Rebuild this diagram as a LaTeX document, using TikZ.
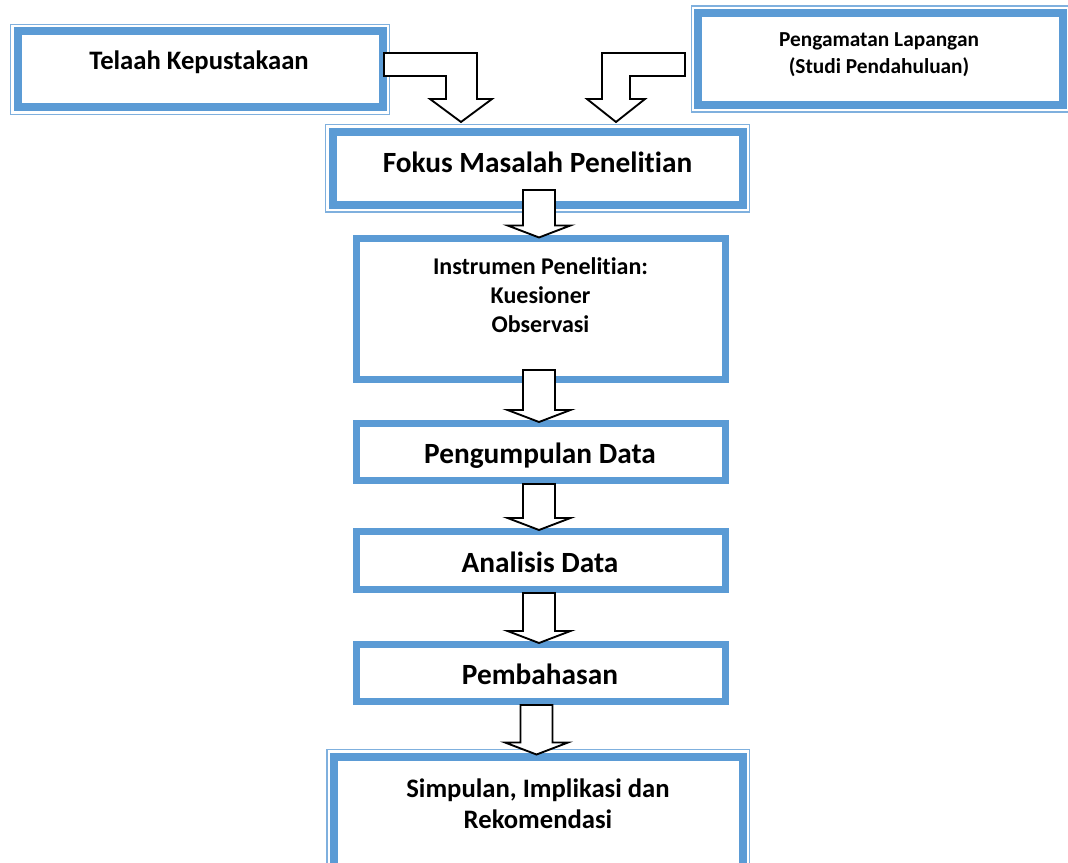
\documentclass[tikz,border=0pt]{standalone}
\usepackage{fontspec}
\setmainfont{Carlito}[Ligatures=NoCommon]
\usetikzlibrary{calc}
\definecolor{bandblue}{HTML}{5B9BD5}
\definecolor{thinblue}{HTML}{7FB0DE}
\tikzset{
  thickbox/.style={draw=bandblue, line width=6pt, fill=white, inner sep=0pt, rectangle},
  singlebox/.style={draw=bandblue, line width=5.25pt, fill=white, inner sep=0pt, rectangle, minimum width=276.4pt},
  thinline/.style={draw=thinblue, line width=0.9pt},
  blkarrow/.style={draw=black, fill=white, line width=1.4pt, line join=miter},
  lbl/.style={inner sep=0pt, anchor=base, align=center, font=\bfseries},
}
\newcommand{\blockdown}[3]{%
  \draw[blkarrow] let \p1=(#1.south), \p2=(#2.north) in
   ({\x2-13.3pt},{\y1+#3}) -- ({\x2+10.7pt},{\y1+#3}) -- ({\x2+10.7pt},{\y2+7.5pt})
   -- ({\x2+22.3pt},{\y2+7.5pt}) -- ({\x2-1.3pt},{\y2-1.5pt}) -- ({\x2-24.9pt},{\y2+7.5pt})
   -- ({\x2-13.3pt},{\y2+7.5pt}) -- cycle;}
\newcommand{\outline}[1]{%
  \draw[thinline] ([shift={(-2.25pt,-2.25pt)}]#1.south west) rectangle ([shift={(2.25pt,2.25pt)}]#1.north east);}
\begin{document}
\begin{tikzpicture}[x=0.75pt,y=-0.75pt]
\useasboundingbox (0,0) rectangle (1068,863);
% boxes
\node[thickbox, minimum width=273.75pt, minimum height=57pt] (tel) at (200,69.5) {};
\outline{tel}
\node[thickbox, minimum width=273.4pt, minimum height=69pt] (pen) at (880.75,59) {};
\outline{pen}
\node[thickbox, minimum width=307.5pt, minimum height=55.1pt] (fok) at (537.5,168.25) {};
\outline{fok}
\node[singlebox, minimum height=105.4pt] (ins) at (540.75,309.25) {};
\node[singlebox, minimum height=42.75pt] (pgd) at (540.75,452) {};
\node[singlebox, minimum height=43.5pt] (ana) at (540.75,560.5) {};
\node[singlebox, minimum height=42.75pt] (pmb) at (540.75,673) {};
\node[thickbox, minimum width=306.4pt, minimum height=83.6pt] (sim) at (538.25,812.25) {};
\outline{sim}
% texts (anchor=base sits on the last line's baseline)
\node[lbl, font=\fontsize{20}{24}\selectfont\bfseries] (telT) at (199,70) {Telaah Kepustakaan};
\node[lbl, font=\fontsize{16}{20.25}\selectfont\bfseries] (penT) at (879,74) {Pengamatan Lapangan\\(Studi Pendahuluan)};
\node[lbl, font=\fontsize{22}{26}\selectfont\bfseries] (fokT) at (537.5,173) {Fokus Masalah Penelitian};
\node[lbl, font=\fontsize{18}{21.75}\selectfont\bfseries] (insT) at (540.5,332) {Instrumen Penelitian:\\Kuesioner\\Observasi};
\node[lbl, font=\fontsize{22}{26}\selectfont\bfseries] (pgdT) at (540,463) {Pengumpulan Data};
\node[lbl, font=\fontsize{22}{26}\selectfont\bfseries] (anaT) at (540,572) {Analisis Data};
\node[lbl, font=\fontsize{22}{26}\selectfont\bfseries] (pmbT) at (540,684) {Pembahasan};
\node[lbl, font=\fontsize{20}{23.25}\selectfont\bfseries] (simT) at (538,828) {Simpulan, Implikasi dan\\Rekomendasi};
% bent arrows
\draw[blkarrow] (384,53) -- (477,53) -- (477,99) -- (492,99) -- (461,122) -- (430,99) -- (446,99) -- (446,76) -- (384,76) -- cycle;
\draw[blkarrow] (685,53) -- (685,76) -- (630,76) -- (630,99) -- (645,99) -- (616,122) -- (587,99) -- (602,99) -- (602,53) -- cycle;
% straight block arrows
\blockdown{fok}{ins}{14.25pt}
\blockdown{ins}{pgd}{9.75pt}
\blockdown{pgd}{ana}{0pt}
\blockdown{ana}{pmb}{0pt}
\blockdown{pmb}{sim}{0pt}
\end{tikzpicture}
\end{document}
